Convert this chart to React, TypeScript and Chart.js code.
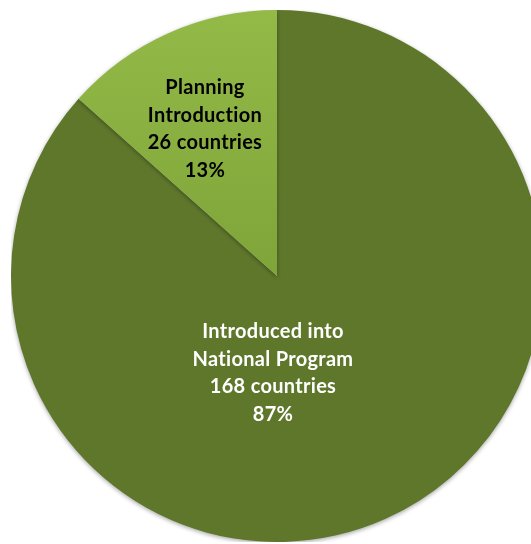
import React, { useEffect, useRef } from "react";
import { Chart, registerables } from "chart.js";

Chart.register(...registerables);

const categories = ["Introduced into National Program", "Planning Introduction"];
const labelLines = [
  ["Introduced into", "National Program", "168 countries", "87%"],
  ["Planning", "Introduction", "26 countries", "13%"],
];
const countries = [168, 26];
const colorsDark = "#5E772B";
const labelColors = ["#FFFFFF", "#000000"];

const labelPlugin = {
  id: "sliceLabels",
  afterDatasetsDraw(chart: any) {
    const ctx = chart.ctx;
    const meta = chart.getDatasetMeta(0);
    ctx.save();
    ctx.font = "bold 20px Lato, 'Liberation Sans', sans-serif";
    try {
      (ctx as any).letterSpacing = "0.3px";
    } catch (e) {}
    ctx.textAlign = "center";
    ctx.textBaseline = "middle";
    meta.data.forEach((arc: any, i: number) => {
      const { x, y, outerRadius, startAngle, endAngle } = arc.getProps(
        ["x", "y", "outerRadius", "startAngle", "endAngle"],
        true
      );
      let cx: number, cy: number;
      if (i === 1) {
        const mid = (startAngle + endAngle) / 2 - 0.035;
        cx = x + Math.cos(mid) * outerRadius * 0.615;
        cy = y + Math.sin(mid) * outerRadius * 0.615;
      } else {
        cx = x - outerRadius * 0.015;
        cy = y + outerRadius * 0.365;
      }
      const lines = labelLines[i];
      const lh = 27.5;
      ctx.fillStyle = labelColors[i];
      lines.forEach((t, k) => {
        ctx.fillText(t, cx, cy + (k - (lines.length - 1) / 2) * lh);
      });
    });
    ctx.restore();
  },
};

const shadowPlugin = {
  id: "pieShadow",
  beforeDatasetsDraw(chart: any) {
    const ctx = chart.ctx;
    ctx.save();
    ctx.shadowColor = "rgba(0,0,0,0.35)";
    ctx.shadowBlur = 4;
    ctx.shadowOffsetX = 0;
    ctx.shadowOffsetY = 1.5;
  },
  afterDatasetsDraw(chart: any) {
    chart.ctx.restore();
  },
};

export default function App() {
  const ref = useRef<HTMLCanvasElement>(null);
  useEffect(() => {
    if (!ref.current) return;
    const chart = new Chart(ref.current, {
      type: "pie",
      data: {
        labels: categories,
        datasets: [
          {
            data: countries,
            borderWidth: 0,
            backgroundColor: (c: any) => {
              if (c.dataIndex === 0) return colorsDark;
              const area = c.chart.chartArea;
              if (!area) return "#8CB240";
              const g = c.chart.ctx.createLinearGradient(0, area.top, 0, area.top + area.height / 2);
              g.addColorStop(0, "#93B947");
              g.addColorStop(1, "#7FA53A");
              return g;
            },
          },
        ],
      },
      options: {
        responsive: false,
        animation: false,
        layout: { padding: 0 },
        plugins: {
          legend: { display: false },
          tooltip: { enabled: false },
        },
      },
      plugins: [shadowPlugin, labelPlugin],
    });
    return () => chart.destroy();
  }, []);
  return (
    <div
      style={{
        position: "fixed",
        left: 0,
        top: 0,
        width: 531,
        height: 544,
        overflow: "hidden",
        background: "#FFFFFF",
      }}
    >
      <canvas
        ref={ref}
        width={532}
        height={532}
        style={{ position: "absolute", left: 11, top: 10, width: 532, height: 532 }}
      />
    </div>
  );
}
